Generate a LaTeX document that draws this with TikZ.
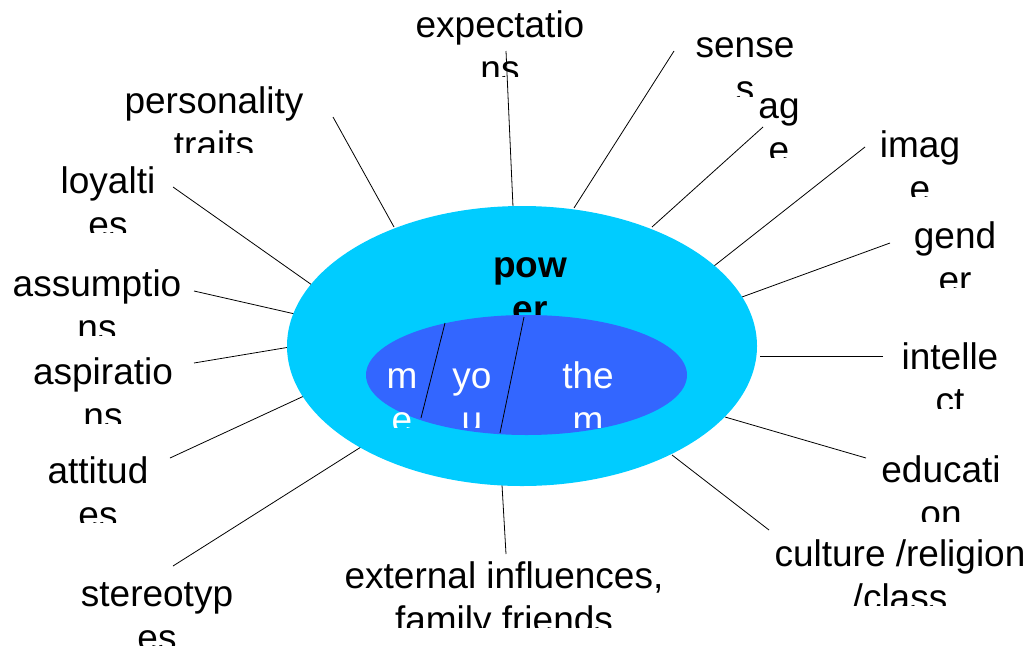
\documentclass[tikz,border=0pt]{standalone}
\usepackage{fontspec}
\setmainfont{Liberation Sans}
\usetikzlibrary{shapes.geometric}
\definecolor{outercol}{HTML}{00CCFF}
\definecolor{innercol}{HTML}{3366FF}
\tikzset{
  lab/.style={anchor=base, inner sep=0pt, font=\fontsize{27.75}{32}\selectfont},
  conn/.style={draw=black, line width=0.6pt},
}
\newcommand\cliplabel[7]{%
  \begin{scope}
    \clip ({#2-160},{#3-40}) rectangle ({#2+160},{#3+39});
    \node[lab,text=#6,#7] (#1) at (#2,#3) {#4};
    \node[lab,text=#6,#7] (#1-b) at (#2,{#3+44.5}) {#5};
  \end{scope}}
\begin{document}
\begin{tikzpicture}[x=0.75pt,y=-0.75pt]
\useasboundingbox (0,0) rectangle (1031,650);

% connector end points
\coordinate (expA) at (506,51);  \coordinate (expB) at (513,207);
\coordinate (senA) at (674,51);  \coordinate (senB) at (574,208);
\coordinate (ageA) at (763,127); \coordinate (ageB) at (652,227);
\coordinate (imgA) at (865,147); \coordinate (imgB) at (714,266);
\coordinate (genA) at (890,243); \coordinate (genB) at (742,297);
\coordinate (intA) at (883,356); \coordinate (intB) at (760,356);
\coordinate (eduA) at (866,458); \coordinate (eduB) at (725,417);
\coordinate (culA) at (769,530); \coordinate (culB) at (672,455);
\coordinate (extA) at (506,554); \coordinate (extB) at (502,485);
\coordinate (sttA) at (173,566); \coordinate (sttB) at (361,447);
\coordinate (attA) at (170,458); \coordinate (attB) at (304,396);
\coordinate (aspA) at (194,363); \coordinate (aspB) at (290,347);
\coordinate (assA) at (194,291); \coordinate (assB) at (295,314);
\coordinate (loyA) at (173,187); \coordinate (loyB) at (312,285);
\coordinate (perA) at (333,117); \coordinate (perB) at (394,227);

\foreach \n in {exp,sen,age,img,gen,int,edu,cul,ext,stt,att,asp,ass,loy,per}
  \draw[conn] (\n A) -- (\n B);

% outer ellipse
\node[ellipse, fill=outercol, inner sep=0pt, minimum width=352.5pt, minimum height=210pt] (outer) at (522,346) {};

% "power" label (partly hidden by the inner ellipse)
\cliplabel{power}{530}{277}{pow}{er}{black}{font=\fontsize{27.75}{32}\selectfont\bfseries}

% inner ellipse
\node[ellipse, fill=innercol, inner sep=0pt, minimum width=240.75pt, minimum height=90pt] (inner) at (526.5,375) {};

% dividers
\coordinate (d1a) at (445,323); \coordinate (d1b) at (421,418);
\coordinate (d2a) at (524,317); \coordinate (d2b) at (500,433);
\draw[conn] (d1a) -- (d1b);
\draw[conn] (d2a) -- (d2b);

% inner labels
\cliplabel{me}{402}{388}{m}{e}{white}{}
\cliplabel{you}{472}{388}{yo}{u}{white}{}
\cliplabel{them}{588}{388}{the}{m}{white}{}

% outer labels
\cliplabel{expect}{500}{37}{expectatio}{ns}{black}{}
\cliplabel{senses}{745}{57}{sense}{s}{black}{}
\cliplabel{age}{779}{118}{ag}{e}{black}{}
\cliplabel{image}{920}{157}{imag}{e}{black}{}
\cliplabel{gender}{955}{248}{gend}{er}{black}{}
\cliplabel{intellect}{950}{369}{intelle}{ct}{black}{}
\cliplabel{education}{941}{482}{educati}{on}{black}{}
\cliplabel{culture}{900}{566}{culture /religion}{/class}{black}{}
\cliplabel{external}{504}{588}{external influences,}{family friends}{black}{}
\cliplabel{stereo}{157}{606}{stereotyp}{es}{black}{}
\cliplabel{attitudes}{98}{483}{attitud}{es}{black}{}
\cliplabel{aspirations}{103}{384}{aspiratio}{ns}{black}{}
\cliplabel{assumptions}{97}{296}{assumptio}{ns}{black}{}
\cliplabel{loyalties}{108}{193}{loyalti}{es}{black}{}
\cliplabel{personality}{214}{113}{personality}{traits}{black}{}
\end{tikzpicture}
\end{document}
